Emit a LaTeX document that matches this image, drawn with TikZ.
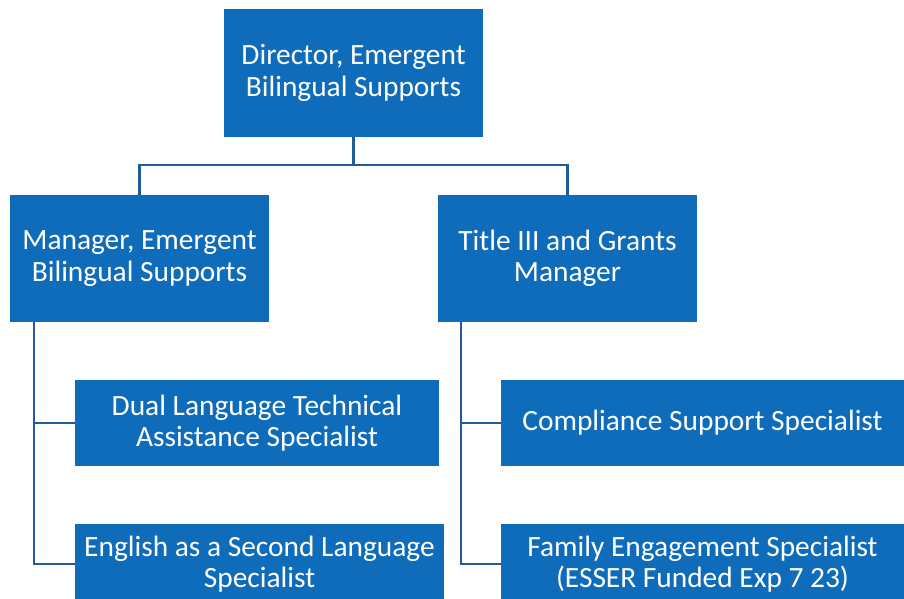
\documentclass[tikz,border=0pt]{standalone}
\usepackage{fontspec}
\setmainfont{Carlito}
\usetikzlibrary{positioning}
\definecolor{boxblue}{RGB}{15,108,187}
\definecolor{lineblue}{RGB}{30,92,156}

\begin{document}
\begin{tikzpicture}[x = 1pt, y = 1pt, font=\fontsize{29.4}{31.5}\selectfont]
	\tikzstyle{boxStyle} = [shape = rectangle, fill = boxblue, text = white, align = center, inner sep = 0pt]
	\tikzstyle{linkStyle} = [draw = lineblue, line width = 2.2pt]
	\useasboundingbox (0,0) rectangle (904,599);
	\node[boxStyle, minimum width = 259pt, minimum height = 128pt] (director) at (353.5,526) {Director, Emergent\\Bilingual Supports};
	\node[boxStyle, minimum width = 259pt, minimum height = 127pt] (manager) at (139.5,340.5) {Manager, Emergent\\Bilingual Supports};
	\node[boxStyle, minimum width = 259pt, minimum height = 127pt] (grants) at (567.5,340.5) {Title III and Grants\\Manager};
	\node[boxStyle, minimum width = 364pt, minimum height = 86pt] (dual) at (257,176) {Dual Language Technical\\Assistance Specialist};
	\node[boxStyle, minimum width = 369pt, minimum height = 80pt] (esl) at (259.5,35) {English as a Second Language\\Specialist};
	\node[boxStyle, minimum width = 403pt, minimum height = 86pt] (compliance) at (702.5,176) {Compliance Support Specialist};
	\node[boxStyle, minimum width = 403pt, minimum height = 80pt] (family) at (702.5,35) {Family Engagement Specialist\\(ESSER Funded Exp 7 23)};
	% top level
	\draw[linkStyle] (director.south) -- ++(0,-28) coordinate (split);
	\draw[linkStyle] (manager.north) |- (split) -| (grants.north);
	% left branch
	\draw[linkStyle] ([xshift = 24pt]manager.south west) |- (dual.west);
	\draw[linkStyle] ([xshift = 24pt]manager.south west) |- (esl.west);
	% right branch
	\draw[linkStyle] ([xshift = 23pt]grants.south west) |- (compliance.west);
	\draw[linkStyle] ([xshift = 23pt]grants.south west) |- (family.west);
\end{tikzpicture}
\end{document}
